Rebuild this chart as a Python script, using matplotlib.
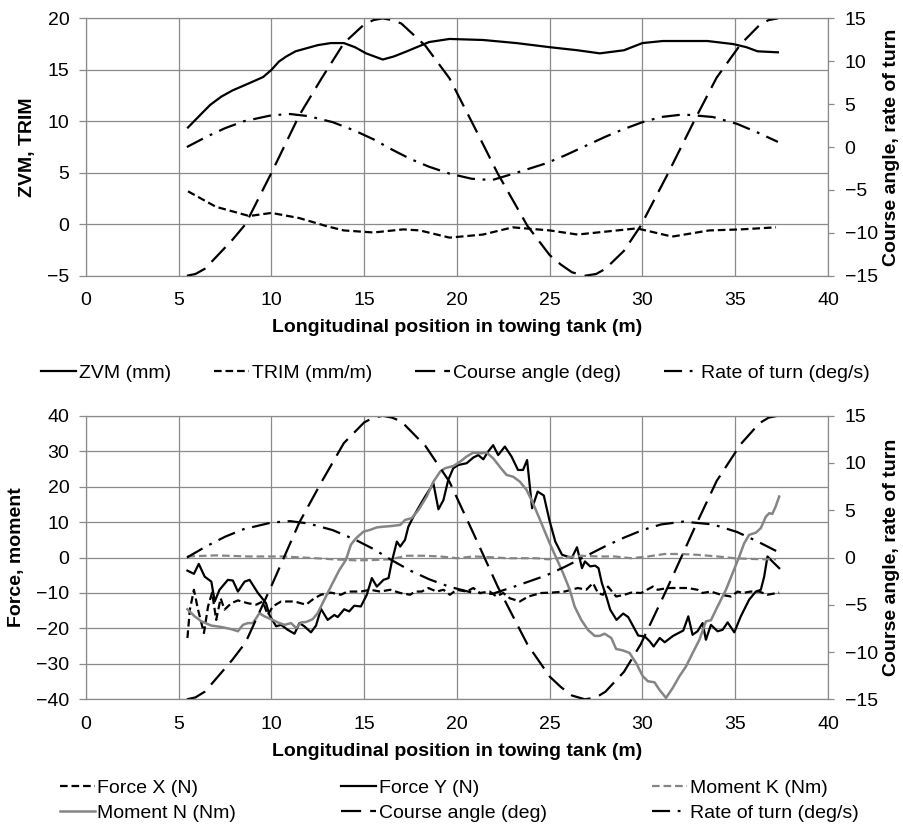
import matplotlib
matplotlib.use("Agg")
import matplotlib.pyplot as plt

plt.rcParams["font.family"] = ["Liberation Sans", "DejaVu Sans"]
plt.rcParams["lines.scale_dashes"] = False

# -------------------------------
# Data (position along the tank in m)
# -------------------------------
course_x = [5.44, 5.9, 6.4, 6.85, 7.9, 8.6, 10.0, 11.5, 12.7, 13.9, 15.0, 15.5, 16.0, 16.5,
            17.0, 18.3, 19.6, 20.9, 22.2, 23.8, 25.0, 25.6, 26.2, 26.9, 27.5, 28.0, 29.0,
            29.9, 31.3, 32.8, 34.0, 35.3, 36.3, 36.8, 37.3]
course_deg = [-15.0, -14.8, -14.2, -13.2, -10.8, -9.0, -3.0, 3.7, 8.0, 12.1, 14.3, 14.8, 15.0,
              14.8, 14.4, 11.8, 8.0, 2.5, -3.1, -9.2, -12.6, -13.7, -14.6, -15.0, -14.8,
              -14.2, -12.1, -9.2, -3.4, 3.1, 8.1, 12.0, 14.2, 14.8, 15.0]

rate_x = [5.44, 6.5, 7.5, 8.5, 10.0, 11.0, 12.0, 13.3, 14.5, 15.5, 16.5, 17.5, 18.5, 19.6,
          20.8, 21.9, 23.2, 24.8, 25.8, 26.8, 28.0, 29.0, 30.0, 31.0, 32.2, 33.8, 35.1,
          36.2, 37.3]
rate_degs = [0.0, 1.2, 2.2, 3.0, 3.7, 3.85, 3.6, 2.9, 1.9, 0.9, -0.3, -1.4, -2.3, -3.1,
             -3.7, -3.85, -3.0, -1.9, -1.0, 0.0, 1.2, 2.1, 2.9, 3.5, 3.8, 3.5, 2.7,
             1.7, 0.6]

zvm_x = [5.5, 6.15, 6.7, 7.3, 7.9, 8.8, 9.55, 10.0, 10.4, 10.8, 11.3, 11.9, 12.5, 13.2,
         13.9, 14.5, 15.1, 16.0, 16.6, 17.3, 18.5, 19.6, 21.4, 23.2, 25.0, 26.5, 27.7, 29.0,
         30.0, 31.1, 33.5, 34.9, 35.6, 36.2, 37.3]
zvm_mm = [9.4, 10.6, 11.6, 12.4, 13.0, 13.7, 14.3, 15.0, 15.8, 16.3, 16.8, 17.1, 17.4, 17.6,
          17.6, 17.2, 16.6, 16.0, 16.3, 16.8, 17.7, 18.0, 17.9, 17.6, 17.2, 16.9, 16.6, 16.9,
          17.6, 17.8, 17.8, 17.5, 17.2, 16.8, 16.7]

trim_x = [5.5, 7.0, 8.8, 10.0, 11.5, 13.0, 13.9, 15.5, 17.1, 18.0, 19.6, 21.4, 23.0, 25.0,
          26.5, 28.1, 29.7, 31.6, 33.6, 35.3, 37.2]
trim_mmm = [3.2, 1.7, 0.8, 1.1, 0.6, -0.2, -0.6, -0.8, -0.5, -0.6, -1.3, -1.0, -0.3, -0.6,
            -1.0, -0.7, -0.4, -1.2, -0.6, -0.5, -0.3]

fx_x = [5.47, 5.6, 5.82, 6.04, 6.36, 6.58, 6.8, 7.02, 7.26, 7.47, 7.83, 8.19, 8.73, 9.18,
        9.53, 9.8, 10.07, 10.52, 11.24, 11.86, 12.31, 12.67, 13.2, 13.74, 14.1, 14.82,
        15.32, 15.86, 16.4, 16.94, 17.47, 17.74, 18.1, 18.46, 18.9, 19.27, 19.62, 19.98,
        20.52, 20.88, 21.24, 21.77, 22.13, 22.49, 22.85, 23.39, 23.84, 24.55, 25.09, 25.8,
        26.52, 26.97, 27.33, 27.6, 27.87, 28.14, 28.58, 29.03, 29.39, 29.93, 30.56, 30.82,
        31.36, 31.9, 32.44, 32.97, 33.24, 33.69, 34.23, 34.77, 35.13, 35.4, 35.84, 36.29,
        36.74, 37.37]
fx_n = [-22.7, -14.7, -9.1, -14.7, -21.3, -13.8, -9.9, -17.6, -11.5, -14.7, -12.9, -12.1,
        -12.9, -13.3, -12.4, -16.2, -13.8, -12.4, -12.4, -13.3, -11.5, -10.5, -9.9, -10.5,
        -9.6, -9.6, -9.1, -9.6, -9.1, -10.0, -10.5, -9.6, -9.6, -8.6, -9.6, -9.1, -10.5,
        -9.1, -9.6, -8.6, -10.0, -9.6, -11.0, -10.0, -11.5, -12.4, -11.0, -10.0, -9.9, -9.6,
        -8.6, -9.1, -7.2, -10.0, -10.5, -8.2, -11.0, -10.5, -9.9, -10.0, -8.2, -9.1,
        -8.6, -8.6, -8.6, -9.1, -10.0, -9.6, -10.5, -11.0, -9.6, -10.0, -9.6, -9.6,
        -10.5, -9.9]

fy_x = [5.47, 5.82, 6.08, 6.4, 6.76, 6.94, 7.2, 7.65, 7.92, 8.19, 8.55, 8.82, 9.27, 9.71,
        9.89, 10.25, 10.52, 10.88, 11.24, 11.51, 11.77, 12.13, 12.4, 12.67, 13.03, 13.39,
        13.57, 13.92, 14.19, 14.46, 14.82, 15.14, 15.41, 15.68, 16.04, 16.31, 16.49, 16.76,
        16.94, 17.2, 17.38, 17.65, 18.01, 18.28, 18.73, 19.0, 19.27, 19.53, 19.8, 20.07,
        20.52, 20.88, 21.15, 21.42, 21.68, 21.95, 22.22, 22.58, 22.94, 23.29, 23.56, 23.78,
        24.05, 24.35, 24.68, 24.98, 25.3, 25.66, 25.93, 26.2, 26.47, 26.74, 26.9, 27.18,
        27.45, 27.63, 27.81, 28.08, 28.26, 28.6, 28.96, 29.23, 29.5, 29.77, 30.13, 30.4,
        30.6, 30.93, 31.2, 31.65, 32.2, 32.47, 32.7, 32.97, 33.24, 33.42, 33.69, 34.05,
        34.32, 34.59, 34.95, 35.3, 35.75, 36.11, 36.38, 36.56, 36.74, 37.0, 37.37]
fy_n = [-3.7, -4.6, -1.8, -5.4, -6.8, -12.4, -9.1, -6.3, -6.5, -9.6, -6.8, -6.3, -10.0, -12.9,
        -16.2, -19.4, -19.0, -20.4, -21.5, -18.5, -19.4, -21.1, -19.2, -14.5, -17.6, -16.2,
        -16.8, -14.6, -15.2, -13.6, -13.8, -10.5, -5.8, -8.2, -6.3, -5.8, -1.1, 4.5,
        3.1, 5.0, 8.7, 11.5, 14.8, 17.2, 20.9, 13.6, 16.2, 21.9, 25.2, 26.1,
        26.6, 28.2, 28.9, 27.7, 29.9, 31.7, 28.9, 31.3, 28.5, 24.7, 24.7, 27.5,
        13.9, 18.6, 17.5, 10.6, 4.5, 0.8, 0.3, 0.0, 2.9, -3.0, -1.1, -2.5,
        -2.3, -3.0, -7.2, -11.5, -14.7, -17.6, -15.8, -16.8, -19.4, -22.0, -22.3, -23.7,
        -25.1, -22.7, -23.9, -22.1, -20.6, -16.6, -21.8, -20.8, -18.5, -23.2, -19.0, -20.8,
        -20.4, -18.3, -21.1, -16.6, -11.9, -9.6, -9.1, -5.4, 0.3, -1.1, -3.0]

mk_x = [5.47, 7.0, 8.8, 10.6, 12.4, 13.3, 14.6, 15.5, 16.4, 17.3, 18.2, 19.1, 20.0, 20.9,
        21.8, 22.7, 24.3, 24.9, 25.8, 26.7, 27.6, 28.5, 29.4, 30.3, 31.2, 32.1, 33.0,
        34.05, 34.95, 35.84, 36.74, 37.2]
mk_nm = [0.3, 0.6, 0.3, 0.3, -0.2, -0.5, -0.8, -0.7, -0.5, 0.5, 0.5, 0.3, -0.2, 0.3,
         0.1, -0.2, -0.2, -0.5, 0.0, 0.5, 0.3, 0.3, -0.2, 0.3, 1.0, 1.0, 0.75,
         0.3, -0.2, -0.4, -0.5, -0.5]

mn_x = [5.47, 5.86, 6.22, 6.76, 7.29, 7.83, 8.19, 8.46, 8.73, 9.0, 9.35, 9.62, 9.98, 10.34,
        10.7, 11.06, 11.33, 11.6, 11.86, 12.22, 12.49, 12.85, 13.2, 13.66, 14.01, 14.28,
        14.55, 14.96, 15.32, 15.68, 16.04, 16.49, 16.94, 17.2, 17.56, 17.92, 18.37, 18.73,
        19.09, 19.36, 19.8, 20.16, 20.52, 20.88, 21.24, 21.6, 21.95, 22.31, 22.67, 23.03,
        23.39, 23.75, 24.1, 24.55, 25.0, 25.36, 25.72, 26.08, 26.34, 26.7, 27.06, 27.42,
        27.69, 27.96, 28.32, 28.58, 28.94, 29.3, 29.66, 30.02, 30.29, 30.65, 30.91, 31.27,
        31.63, 31.99, 32.35, 32.71, 33.07, 33.42, 33.69, 34.05, 34.5, 34.86, 35.22, 35.48,
        35.75, 36.11, 36.38, 36.65, 36.83, 37.0, 37.18, 37.37]
mn_nm = [-14.6, -16.6, -18.0, -19.2, -19.6, -20.2, -20.8, -19.0, -18.5, -18.5, -15.7, -16.6,
         -17.4, -18.3, -19.0, -18.5, -19.9, -18.3, -18.2, -17.4, -15.7, -11.9, -8.2, -3.5,
         -0.7, 3.6, 5.4, 7.3, 7.8, 8.5, 8.7, 8.9, 9.2, 10.6, 11.1, 13.4, 17.2, 21.4,
         24.2, 25.2, 25.8, 27.0, 28.5, 29.6, 29.4, 29.6, 28.0, 25.6, 23.3, 22.8,
         21.4, 19.1, 15.3, 9.7, 4.0, -0.2, -4.4, -9.1, -13.8, -17.6, -20.4, -22.1,
         -22.1, -21.5, -22.7, -25.8, -26.2, -26.9, -29.8, -33.5, -34.9, -35.2, -37.3, -39.6,
         -36.8, -33.5, -30.7, -26.9, -23.2, -18.0, -17.7, -13.8, -9.1, -4.4, 0.3, 4.0,
         6.4, 7.0, 8.3, 11.5, 12.5, 12.3, 14.4, 17.2]

# -------------------------------
# Line styles (dash lengths in points)
# -------------------------------
GRID = "#8a8a8a"
GREY = "#858585"
solid = "-"
short_dash = (0, (5.5, 2.8))
long_dash = (0, (14.5, 6.5))
long_dash_dot = (0, (13, 5.5, 2, 5.5))


def style_axes(ax, ax_r, ylim, yticks, ylabel):
    ax.set_xlim(0, 40)
    ax.set_xticks(range(0, 41, 5))
    ax.set_ylim(*ylim)
    ax.set_yticks(yticks)
    ax.grid(True, color=GRID, lw=0.9)
    ax.set_axisbelow(True)
    for side in ["left", "right", "top", "bottom"]:
        ax.spines[side].set_color(GRID)
        ax_r.spines[side].set_color(GRID)
    ax.tick_params(axis="y", direction="out", length=5, width=0.9, color=GRID,
                   labelsize=14, pad=7)
    ax.tick_params(axis="x", length=0, labelsize=14, pad=12)
    ax.set_ylabel(ylabel, fontsize=14, fontweight="bold", labelpad=8)
    ax.set_xlabel("Longitudinal position in towing tank (m)", fontsize=14,
                  fontweight="bold", labelpad=7)

    ax_r.set_ylim(-15, 15)
    ax_r.set_yticks(range(-15, 16, 5))
    ax_r.tick_params(axis="y", direction="out", length=4, width=0.9, color=GRID,
                     labelsize=14, pad=8)
    ax_r.set_ylabel("Course angle, rate of turn", fontsize=14, fontweight="bold",
                    labelpad=4)


fig = plt.figure(figsize=(9.04, 8.27), dpi=100)

# -------------------------------
# Top chart: ZVM / TRIM
# -------------------------------
ax1 = fig.add_axes([0.0951, 0.6666, 0.8208, 0.3112])
ax2 = ax1.twinx()
style_axes(ax1, ax2, (-5, 20), range(-5, 21, 5), "ZVM, TRIM")

h_zvm, = ax1.plot(zvm_x, zvm_mm, color="black", lw=1.6, ls=solid, label="ZVM (mm)")
h_trim, = ax1.plot(trim_x, trim_mmm, color="black", lw=1.6, ls=short_dash, label="TRIM (mm/m)")
h_course, = ax2.plot(course_x, course_deg, color="black", lw=1.6, ls=long_dash,
                     label="Course angle (deg)")
h_rate, = ax2.plot(rate_x, rate_degs, color="black", lw=1.6, ls=long_dash_dot,
                   label="Rate of turn (deg/s)")

fig.legend([h_zvm, h_trim, h_course, h_rate],
           [h.get_label() for h in [h_zvm, h_trim, h_course, h_rate]],
           loc="center", bbox_to_anchor=(0.504, 0.549), ncol=4, frameon=False,
           fontsize=14, handlelength=1.8, handletextpad=0.15, columnspacing=2.2)

# -------------------------------
# Bottom chart: forces and moments
# -------------------------------
ax3 = fig.add_axes([0.0951, 0.1544, 0.8208, 0.3429])
ax4 = ax3.twinx()
style_axes(ax3, ax4, (-40, 40), range(-40, 41, 10), "Force, moment")

h_fx, = ax3.plot(fx_x, fx_n, color="black", lw=1.6, ls=short_dash, label="Force X (N)")
h_fy, = ax3.plot(fy_x, fy_n, color="black", lw=1.6, ls=solid, label="Force Y (N)")
h_mk, = ax3.plot(mk_x, mk_nm, color=GREY, lw=1.6, ls=short_dash, label="Moment K (Nm)")
h_mn, = ax3.plot(mn_x, mn_nm, color=GREY, lw=1.8, ls=solid, label="Moment N (Nm)")
h_course2, = ax4.plot(course_x, course_deg, color="black", lw=1.6, ls=long_dash,
                      label="Course angle (deg)")
h_rate2, = ax4.plot(rate_x, rate_degs, color="black", lw=1.6, ls=long_dash_dot,
                    label="Rate of turn (deg/s)")

# legend fills column by column, so order the handles for row-wise reading
order = [h_fx, h_mn, h_fy, h_course2, h_mk, h_rate2]
fig.legend(order, [h.get_label() for h in order],
           loc="center", bbox_to_anchor=(0.508, 0.032), ncol=3, frameon=False,
           fontsize=14, handlelength=1.8, handletextpad=0.15, columnspacing=5.4,
           labelspacing=0.35)

fig.savefig("out.png", dpi=100)
plt.close(fig)
